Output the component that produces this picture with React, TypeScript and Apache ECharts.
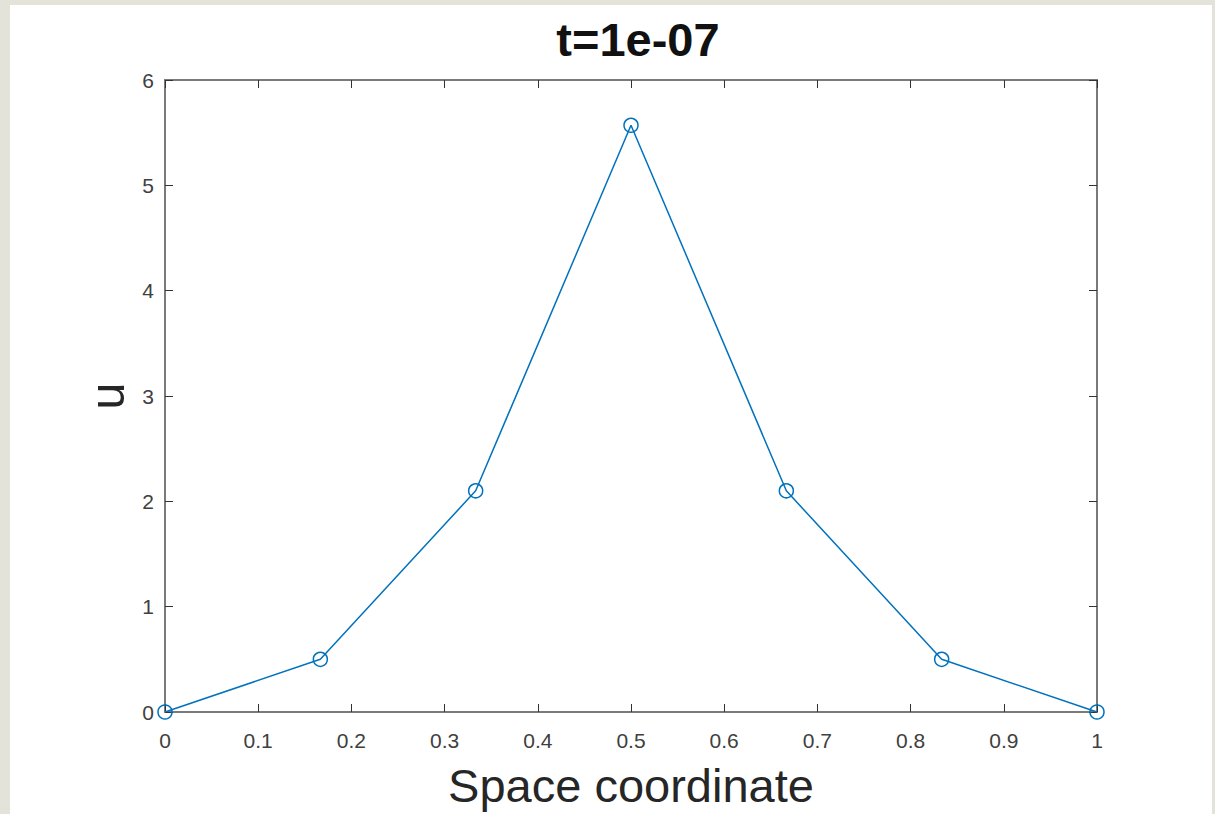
import React, { useEffect, useRef } from "react";
import * as echarts from "echarts";

const xValues = [0, 1 / 6, 1 / 3, 0.5, 2 / 3, 5 / 6, 1];
const uValues = [0, 0.5, 2.1, 5.57, 2.1, 0.5, 0];
const titleText = "t=1e-07";
const xLabel = "Space coordinate";
const yLabel = "u";

const axisColor = "#7a7a7a";
const labelColor = "#404040";
const font = "Liberation Sans, Arial, sans-serif";

export default function App() {
  const ref = useRef<HTMLDivElement>(null);
  useEffect(() => {
    const chart = echarts.init(ref.current!, null, { renderer: "svg" });
    const axisCommon = {
      axisLine: { show: true, onZero: false, lineStyle: { color: axisColor, width: 2 } },
      axisTick: { show: true, inside: true, length: 8, lineStyle: { color: "#333", width: 1 } },
      splitLine: { show: false },
    };
    chart.setOption({
      animation: false,
      backgroundColor: "#e3e3d9",
      graphic: [
        { type: "rect", shape: { x: 10, y: 5, width: 1202, height: 820 }, style: { fill: "#ffffff" }, z: -10 },
      ],
      title: {
        text: titleText,
        left: 633,
        textAlign: "center",
        top: 11,
        textStyle: { fontFamily: font, fontWeight: "bold", fontSize: 47, color: "#111" },
      },
      grid: { left: 165, right: 118, top: 80, bottom: 102, outerBoundsMode: "none", containLabel: false },
      xAxis: [
        {
          type: "value",
          min: 0,
          max: 1,
          interval: 0.1,
          position: "bottom",
          name: xLabel,
          nameLocation: "middle",
          nameGap: 50,
          nameTextStyle: { fontFamily: font, fontSize: 47, color: "#262626" },
          axisLabel: { fontFamily: font, fontSize: 21, color: labelColor, margin: 18 },
          ...axisCommon,
        },
        {
          type: "value",
          min: 0,
          max: 1,
          interval: 0.1,
          position: "top",
          axisLabel: { show: false },
          ...axisCommon,
        },
      ],
      yAxis: [
        {
          type: "value",
          min: 0,
          max: 6,
          interval: 1,
          position: "left",
          name: yLabel,
          nameLocation: "middle",
          nameGap: 32,
          nameTextStyle: { fontFamily: font, fontSize: 49, color: "#262626" },
          axisLabel: { fontFamily: font, fontSize: 21, color: labelColor, margin: 11 },
          ...axisCommon,
        },
        {
          type: "value",
          min: 0,
          max: 6,
          interval: 1,
          position: "right",
          axisLabel: { show: false },
          ...axisCommon,
        },
      ],
      series: [
        {
          type: "line",
          data: xValues.map((x, i) => [x, uValues[i]]),
          symbol: "circle",
          symbolSize: 14,
          showAllSymbol: true,
          lineStyle: { color: "#0072bd", width: 1.5 },
          itemStyle: { color: "rgba(255,255,255,0)", borderColor: "#0072bd", borderWidth: 1.5 },
          clip: false,
        },
      ],
    });
    return () => chart.dispose();
  }, []);
  return <div ref={ref} style={{ position: "fixed", left: 0, top: 0, width: 1215, height: 814 }} />;
}
